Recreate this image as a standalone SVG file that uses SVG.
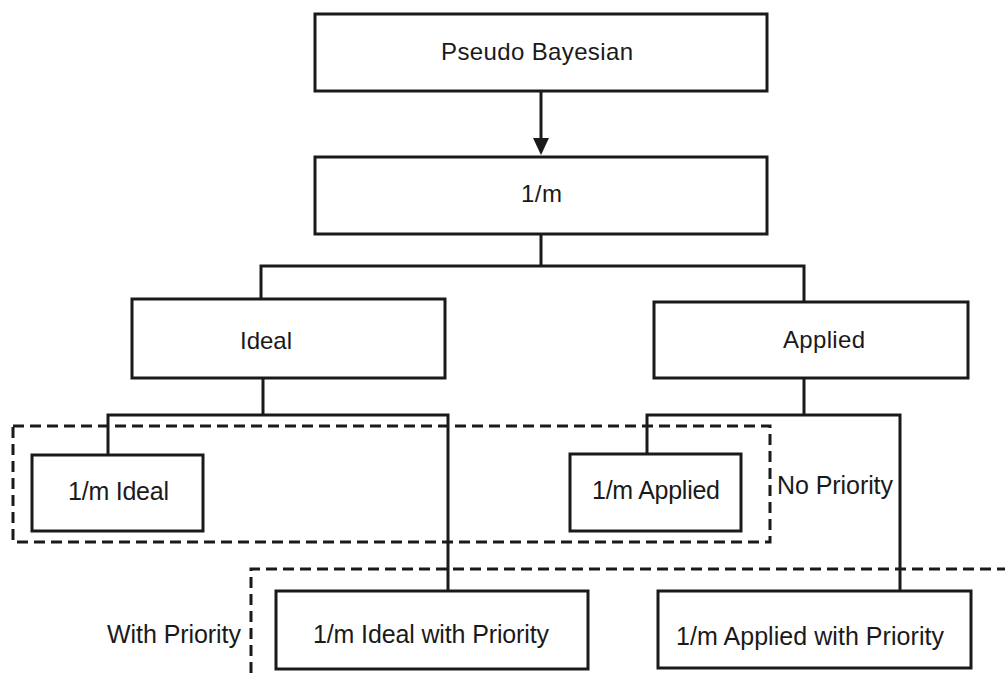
<svg xmlns="http://www.w3.org/2000/svg" width="1005" height="679" viewBox="0 0 1005 679">
<defs>
<style>
.box{fill:#fff;stroke:#1a1a1a;stroke-width:3}
.ln{fill:none;stroke:#1a1a1a;stroke-width:3}
.dash{fill:none;stroke:#1a1a1a;stroke-width:3;stroke-dasharray:11 6}
text{font-family:"Liberation Sans",Arial,sans-serif;font-size:25px;fill:#1a1a1a}
.top{font-size:24px}
</style>
</defs>
<rect width="1005" height="679" fill="#fff"/>
<g id="groups">
<path class="dash" d="M13,426 H770 V542 H13 Z"/>
<path class="dash" d="M251,690 V569 H1010"/>
<text x="777" y="494" textLength="116">No Priority</text>
<text x="107" y="643" textLength="134">With Priority</text>
</g>
<g id="connectors">
<line class="ln" x1="541" y1="91" x2="541" y2="140"/>
<path d="M533,138 L549,138 L541,155 Z" fill="#1a1a1a"/>
<path class="ln" d="M541,234 V266 M261,300 V266 H804 V302"/>
<path class="ln" d="M263,378 V415 M108,455 V415 H448 V591"/>
<path class="ln" d="M804,378 V415 M647,454 V415 H900 V591"/>
</g>
<g id="pseudo"><rect class="box" x="315" y="14" width="452" height="77"/><text class="top" x="441" y="60" textLength="192">Pseudo Bayesian</text></g>
<g id="onem"><rect class="box" x="315" y="157" width="452" height="77"/><text class="top" x="521" y="202" textLength="41">1/m</text></g>
<g id="ideal"><rect class="box" x="132" y="299" width="313" height="79"/><text class="top" x="240" y="349" textLength="52">Ideal</text></g>
<g id="applied"><rect class="box" x="654" y="302" width="314" height="76"/><text class="top" x="783" y="348" textLength="82">Applied</text></g>
<g id="onem-ideal"><rect class="box" x="32" y="455" width="171" height="76"/><text x="68" y="500" textLength="101">1/m Ideal</text></g>
<g id="onem-applied"><rect class="box" x="570" y="454" width="171" height="77"/><text x="592" y="499" textLength="128">1/m Applied</text></g>
<g id="onem-ideal-prio"><rect class="box" x="276" y="591" width="312" height="78"/><text x="313" y="643" textLength="236">1/m Ideal with Priority</text></g>
<g id="onem-applied-prio"><rect class="box" x="658" y="591" width="313" height="77"/><text x="676" y="645" textLength="268">1/m Applied with Priority</text></g>
</svg>
